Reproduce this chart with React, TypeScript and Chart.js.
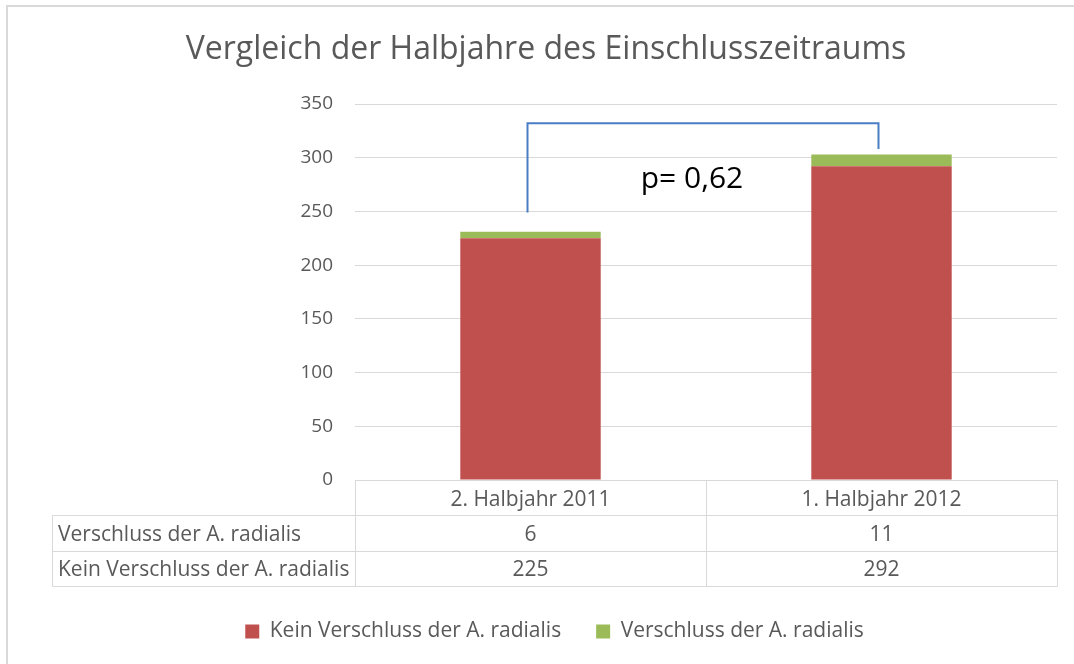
import React, { useEffect, useRef } from "react";
import { Chart, registerables } from "chart.js";

Chart.register(...registerables);

const TITLE = "Vergleich der Halbjahre des Einschlusszeitraums";
const categories = ["2. Halbjahr 2011", "1. Halbjahr 2012"];
const seriesNames = ["Kein Verschluss der A. radialis", "Verschluss der A. radialis"];
const keinVerschluss = [225, 292];
const verschluss = [6, 11];
const yMin = 0;
const yMax = 350;
const yStep = 50;
// table rows as shown in the data table below the chart
const tableRowLabels = ["Verschluss der A. radialis", "Kein Verschluss der A. radialis"];
const tableRowValues = [verschluss, keinVerschluss];
// significance bracket (in data units)
const pLabel = "p= 0,62";
const bracketLeftBottom = 249;
const bracketTop = 332;
const bracketRightBottom = 308;
const pLabelValue = 280;
const pLabelCategoryPos = 0.46;

const FONT = "'Open Sans'";
const TEXT = "#595959";
const GRID = "#D9D9D9";

export default function App() {
  const ref = useRef<HTMLCanvasElement | null>(null);

  useEffect(() => {
    if (!ref.current) return;

    const framePlugin = {
      id: "frame",
      beforeDraw(chart: any) {
        const ctx = chart.ctx;
        ctx.save();
        ctx.fillStyle = "#ffffff";
        ctx.fillRect(0, 0, chart.width, chart.height);
        ctx.strokeStyle = GRID;
        ctx.lineWidth = 2;
        ctx.strokeRect(7, 6, chart.width + 20, chart.height + 20);
        // title
        ctx.fillStyle = TEXT;
        ctx.font = `32px ${FONT}`;
        ctx.textAlign = "center";
        ctx.textBaseline = "middle";
        ctx.fillText(TITLE, 546, 50);
        ctx.restore();
      },
    };

    const tablePlugin = {
      id: "dataTable",
      afterDraw(chart: any) {
        const ctx = chart.ctx;
        const x = chart.scales.x;
        const area = chart.chartArea;
        const top = area.bottom;
        const bottom = x.bottom;
        const rowH = (bottom - top) / 3;
        const left = chart.scales.y.left;
        const colEdges = [area.left, x.getPixelForValue(0.5), area.right];
        ctx.save();
        ctx.strokeStyle = GRID;
        ctx.lineWidth = 1;
        const line = (x1: number, y1: number, x2: number, y2: number) => {
          ctx.beginPath();
          ctx.moveTo(Math.round(x1) + 0.5, Math.round(y1) + 0.5);
          ctx.lineTo(Math.round(x2) + 0.5, Math.round(y2) + 0.5);
          ctx.stroke();
        };
        line(area.left, top, area.right, top);
        for (let r = 1; r <= 3; r++) line(left, top + rowH * r, area.right, top + rowH * r);
        line(left, top + rowH, left, bottom);
        colEdges.forEach((cx) => line(cx, top, cx, bottom));
        ctx.fillStyle = TEXT;
        ctx.font = `21px ${FONT}`;
        ctx.textBaseline = "middle";
        ctx.textAlign = "center";
        categories.forEach((c, i) => {
          ctx.fillText(c, x.getPixelForValue(i), top + rowH / 2 + 2);
        });
        tableRowLabels.forEach((lab, r) => {
          const cy = top + rowH * (r + 1) + rowH / 2 + 2;
          ctx.textAlign = "left";
          ctx.fillText(lab, left + 6, cy);
          ctx.textAlign = "center";
          tableRowValues[r].forEach((v, i) => {
            ctx.fillText(String(v), x.getPixelForValue(i), cy);
          });
        });
        ctx.restore();
      },
    };

    const bracketPlugin = {
      id: "bracket",
      afterDatasetsDraw(chart: any) {
        const ctx = chart.ctx;
        const x = chart.scales.x;
        const y = chart.scales.y;
        const x1 = x.getPixelForValue(0) - 3;
        const x2 = x.getPixelForValue(1) - 3;
        ctx.save();
        ctx.strokeStyle = "#4A7EC4";
        ctx.lineWidth = 2;
        ctx.beginPath();
        ctx.moveTo(x1, y.getPixelForValue(bracketLeftBottom));
        ctx.lineTo(x1, y.getPixelForValue(bracketTop));
        ctx.lineTo(x2, y.getPixelForValue(bracketTop));
        ctx.lineTo(x2, y.getPixelForValue(bracketRightBottom));
        ctx.stroke();
        ctx.fillStyle = "#000000";
        ctx.font = `30px ${FONT}`;
        ctx.textAlign = "center";
        ctx.textBaseline = "middle";
        ctx.fillText(pLabel, x.getPixelForValue(pLabelCategoryPos), y.getPixelForValue(pLabelValue));
        ctx.restore();
      },
    };

    const chart = new Chart(ref.current, {
      type: "bar",
      data: {
        labels: categories,
        datasets: [
          {
            label: seriesNames[0],
            data: keinVerschluss,
            backgroundColor: "#C0504D",
            borderWidth: 0,
            barPercentage: 0.4,
            categoryPercentage: 1,
          },
          {
            label: seriesNames[1],
            data: verschluss,
            backgroundColor: "#9BBB59",
            borderWidth: 0,
            barPercentage: 0.4,
            categoryPercentage: 1,
          },
        ],
      },
      options: {
        responsive: false,
        animation: false,
        layout: { padding: { left: 52, right: 17, top: 104, bottom: 12 } },
        plugins: {
          title: { display: false },
          legend: {
            position: "bottom",
            labels: {
              color: TEXT,
              boxWidth: 14,
              boxHeight: 14,
              padding: 35,
              font: { family: FONT, size: 21 },
            },
          },
          tooltip: { enabled: false },
        },
        scales: {
          x: {
            stacked: true,
            grid: { display: false },
            border: { display: false },
            ticks: { display: false },
            afterFit: (s: any) => {
              s.height = 106;
            },
          },
          y: {
            stacked: true,
            min: yMin,
            max: yMax,
            grid: { color: GRID, drawTicks: false },
            border: { display: false },
            ticks: {
              stepSize: yStep,
              color: TEXT,
              padding: 22,
              font: { family: FONT, size: 19 },
            },
            afterFit: (s: any) => {
              s.width = 303;
            },
          },
        },
      },
      plugins: [framePlugin, tablePlugin, bracketPlugin],
    });
    return () => chart.destroy();
  }, []);

  return (
    <div style={{ position: "fixed", left: 0, top: 0, width: 1074, height: 664 }}>
      <canvas ref={ref} width={1074} height={664} style={{ display: "block" }} />
    </div>
  );
}
